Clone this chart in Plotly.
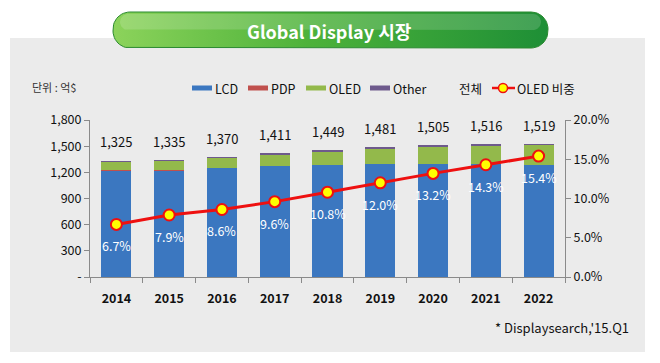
import math
import plotly.graph_objects as go

years = ["2014", "2015", "2016", "2017", "2018", "2019", "2020", "2021", "2022"]
lcd = [1218, 1219, 1247, 1271, 1288, 1298, 1301, 1294, 1280]
pdp = [13, 6, 0, 0, 0, 0, 0, 0, 0]
oled = [89, 105, 118, 135, 156, 178, 199, 217, 234]
other = [5, 5, 5, 5, 5, 5, 5, 5, 5]
totals = [1325, 1335, 1370, 1411, 1449, 1481, 1505, 1516, 1519]
oled_share = [6.7, 7.9, 8.6, 9.6, 10.8, 12.0, 13.2, 14.3, 15.4]

left_tickvals = [0, 300, 600, 900, 1200, 1500, 1800]
left_ticktext = ["-", "300", "600", "900", "1,200", "1,500", "1,800"]
right_tickvals = [0, 5, 10, 15, 20]
right_ticktext = ["0.0%", "5.0%", "10.0%", "15.0%", "20.0%"]

xs = list(range(len(years)))

FONT = "Noto Sans CJK KR"
W, H = 660, 363
PL, PR, PT, PB = 90, 565, 120, 277  # plot area in pixels

C_LCD = "#3B77C0"
C_PDP = "#C0504D"
C_OLED = "#93B94B"
C_OTHER = "#6E5A8C"
C_LINE = "#EE1010"
C_MARK = "#FFFF00"


def fx(x):
    return x / W


def fy(y):
    return 1 - y / H


def rounded_pts(x0, y0, x1, y1, r, n=12):
    pts = []
    corners = [
        (x1 - r, y0 + r, -90, 0),
        (x1 - r, y1 - r, 0, 90),
        (x0 + r, y1 - r, 90, 180),
        (x0 + r, y0 + r, 180, 270),
    ]
    for cx, cy, a0, a1 in corners:
        for i in range(n + 1):
            a = math.radians(a0 + (a1 - a0) * i / n)
            pts.append((cx + r * math.cos(a), cy + r * math.sin(a)))
    pts.append(pts[0])
    return [p[0] for p in pts], [p[1] for p in pts]


fig = go.Figure()

fig.add_trace(go.Bar(x=xs, y=lcd, name="LCD", marker_color=C_LCD, marker_line_width=0))
fig.add_trace(go.Bar(x=xs, y=pdp, name="PDP", marker_color=C_PDP, marker_line_width=0))
fig.add_trace(go.Bar(x=xs, y=oled, name="OLED", marker_color=C_OLED, marker_line_width=0))
fig.add_trace(go.Bar(x=xs, y=other, name="Other", marker_color=C_OTHER, marker_line_width=0))
fig.add_trace(go.Scatter(x=xs, y=oled_share, name="OLED 비중", mode="lines+markers",
                         yaxis="y2",
                         line=dict(color=C_LINE, width=3),
                         marker=dict(size=11, color=C_MARK, line=dict(color=C_LINE, width=2))))

# title pill (decoration layer in pixel coordinates)
pxs, pys = rounded_pts(113, 12, 548, 48, 17)
fig.add_trace(go.Scatter(x=pxs, y=pys, xaxis="x3", yaxis="y3", mode="lines", fill="toself",
                         line=dict(width=1, color="#2B8A30"),
                         fillcolor="#3EA534",
                         fillgradient=dict(type="horizontal",
                                           colorscale=[[0, "#8CD35B"], [0.45, "#4DB23A"], [1, "#1E8F36"]]),
                         hoverinfo="skip", showlegend=False))
hxs, hys = rounded_pts(120, 14, 541, 30, 8)
fig.add_trace(go.Scatter(x=hxs, y=hys, xaxis="x3", yaxis="y3", mode="lines", fill="toself",
                         line=dict(width=0), fillcolor="rgba(255,255,255,0.16)",
                         hoverinfo="skip", showlegend=False))

annotations = []
for xi, t in zip(xs, totals):
    annotations.append(dict(x=xi, y=t, xref="x", yref="y", text=f"{t:,}", showarrow=False,
                            xanchor="center", yanchor="bottom", yshift=8,
                            font=dict(size=13, color="#111", family=FONT)))
for xi, s in zip(xs, oled_share):
    annotations.append(dict(x=xi, y=s, xref="x", yref="y2", text=f"{s:.1f}%", showarrow=False,
                            xanchor="center", yanchor="top", yshift=-10,
                            font=dict(size=12.5, color="#FFFFFF", family=FONT)))

annotations.append(dict(x=fx(329), y=fy(31), xref="paper", yref="paper", text="<b>Global Display 시장</b>",
                        xanchor="center", yanchor="middle",
                        showarrow=False, font=dict(size=18, color="#FFFFFF", family=FONT)))
annotations.append(dict(x=fx(30), y=fy(87), xref="paper", yref="paper", text="단위 : 억$",
                        xanchor="left", yanchor="middle",
                        showarrow=False, font=dict(size=11, color="#333", family=FONT)))
annotations.append(dict(x=fx(631), y=fy(327), xref="paper", yref="paper", text="* Displaysearch,'15.Q1",
                        xanchor="right", yanchor="middle",
                        showarrow=False, font=dict(size=13, color="#111", family=FONT)))

# manual legend
legend_items = [("LCD", C_LCD, 192), ("PDP", C_PDP, 248), ("OLED", C_OLED, 306), ("Other", C_OTHER, 370)]
LY = 88
shapes = [
    dict(type="rect", xref="paper", yref="paper", x0=fx(10), x1=fx(645), y0=fy(352), y1=fy(38),
         fillcolor="#EBEBEB", line=dict(width=0), layer="below"),
]
for name, col, x0 in legend_items:
    shapes.append(dict(type="rect", xref="paper", yref="paper", x0=fx(x0), x1=fx(x0 + 20),
                       y0=fy(LY + 2.5), y1=fy(LY - 2.5), fillcolor=col, line=dict(width=0)))
    annotations.append(dict(x=fx(x0 + 21), y=fy(LY), xref="paper", yref="paper", text=name,
                            xanchor="left", yanchor="middle", showarrow=False,
                            font=dict(size=12.5, color="#111", family=FONT)))
annotations.append(dict(x=fx(457), y=fy(LY), xref="paper", yref="paper", text="전체",
                        xanchor="left", yanchor="middle", showarrow=False,
                        font=dict(size=12.5, color="#111", family=FONT)))
shapes.append(dict(type="line", xref="paper", yref="paper", x0=fx(492), x1=fx(515), y0=fy(LY), y1=fy(LY),
                   line=dict(color=C_LINE, width=2.5)))
shapes.append(dict(type="circle", xref="paper", yref="paper", x0=fx(498.5), x1=fx(507.5),
                   y0=fy(LY + 4.5), y1=fy(LY - 4.5), fillcolor=C_MARK, line=dict(color=C_LINE, width=1.5)))
annotations.append(dict(x=fx(515), y=fy(LY), xref="paper", yref="paper", text="OLED 비중",
                        xanchor="left", yanchor="middle", showarrow=False,
                        font=dict(size=12.5, color="#111", family=FONT)))

fig.update_layout(
    width=W, height=H,
    margin=dict(l=0, r=0, t=0, b=0, pad=0, autoexpand=False),
    paper_bgcolor="#FFFFFF",
    plot_bgcolor="rgba(0,0,0,0)",
    barmode="stack",
    bargap=0.43,
    font=dict(family=FONT, size=12, color="#111"),
    showlegend=False,
    xaxis=dict(domain=[fx(PL), fx(PR)], anchor="y",
               range=[-0.5, len(years) - 0.5], tickvals=xs, ticktext=years,
               showline=True, linecolor="#8A8A8A", linewidth=1,
               ticks="", ticklabelstandoff=10,
               minor=dict(ticks="outside", tick0=-0.5, dtick=1, ticklen=5, tickcolor="#8A8A8A",
                          showgrid=False),
               tickfont=dict(size=12.5, family=FONT, color="#111", weight="bold"),
               showgrid=False, zeroline=False, fixedrange=True),
    yaxis=dict(domain=[fy(PB), fy(PT)], anchor="x",
               range=[0, 1800], tickvals=left_tickvals, ticktext=left_ticktext,
               showline=True, linecolor="#8A8A8A", linewidth=1, ticks="outside", ticklen=5,
               tickcolor="#8A8A8A", showgrid=False, zeroline=False, fixedrange=True,
               tickfont=dict(size=12.5, family=FONT, color="#111")),
    yaxis2=dict(range=[0, 20], overlaying="y", side="right", anchor="x", tickvals=right_tickvals,
                ticktext=right_ticktext, showline=True, linecolor="#8A8A8A", linewidth=1,
                ticks="outside", ticklen=5, tickcolor="#8A8A8A", showgrid=False, zeroline=False,
                fixedrange=True, tickfont=dict(size=12.5, family=FONT, color="#111")),
    xaxis3=dict(domain=[0, 1], range=[0, W], anchor="y3", visible=False, fixedrange=True),
    yaxis3=dict(domain=[0, 1], range=[H, 0], anchor="x3", visible=False, fixedrange=True),
    annotations=annotations,
    shapes=shapes,
)

fig.write_html("out.html", config={"displayModeBar": False},
               post_script="document.body.style.margin='0';document.body.style.padding='0';")
